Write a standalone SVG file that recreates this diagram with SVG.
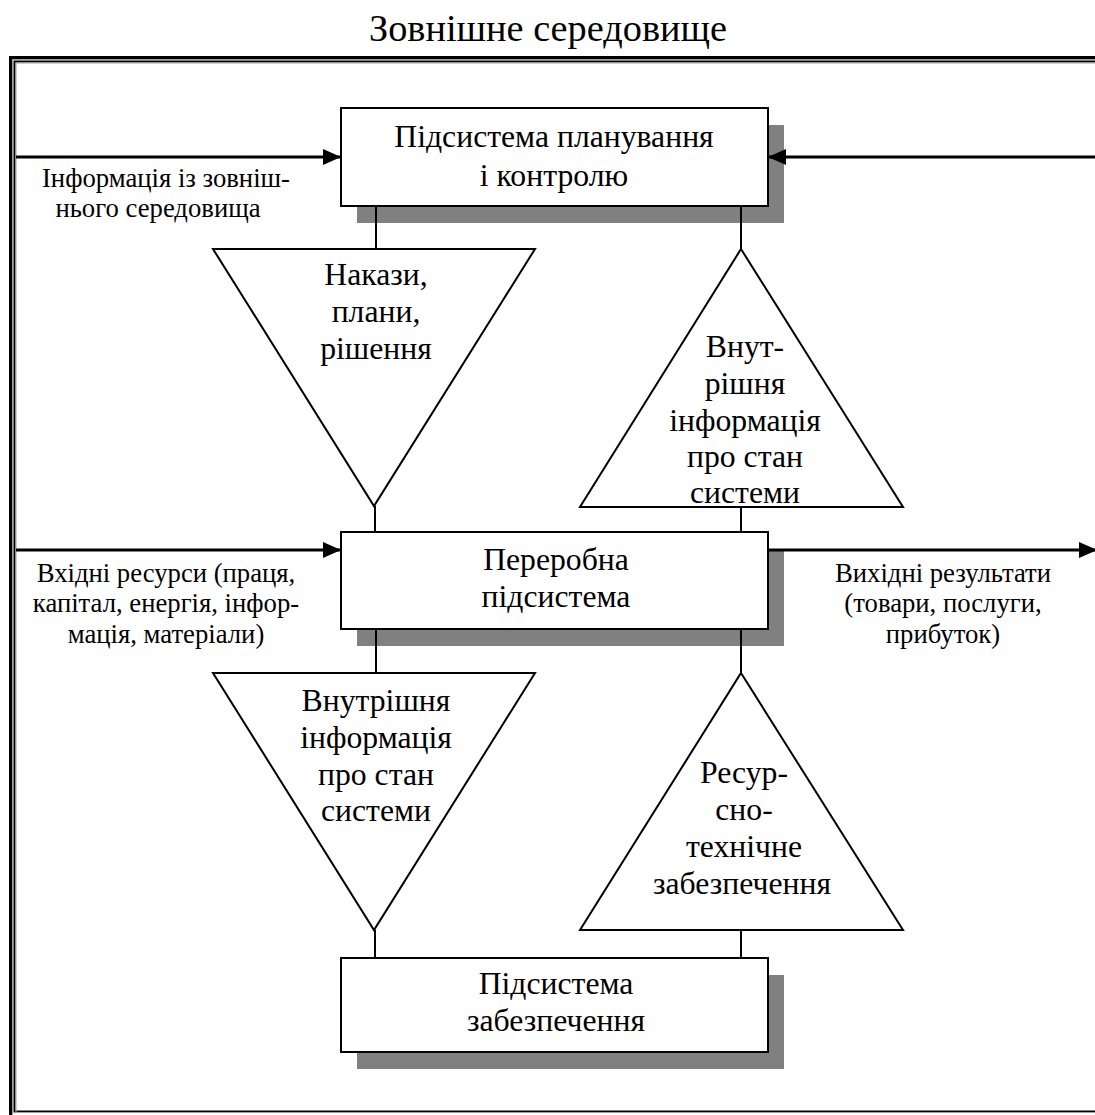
<svg xmlns="http://www.w3.org/2000/svg" width="1095" height="1115" viewBox="0 0 1095 1115">
<style>
.t{font-family:"Liberation Serif","DejaVu Serif",serif;fill:#000;text-anchor:middle}
.big{font-size:31.7px}
.lbl{font-size:26.7px}
.title{font-size:38.3px}
.box{fill:#fff;stroke:#000;stroke-width:2}
.shadow{fill:#808080}
.tri{fill:#fff;stroke:#000;stroke-width:2}
.ln{stroke:#000;stroke-width:2;fill:none}
.arr{stroke:#000;stroke-width:3;fill:none}
</style>
<defs>
<marker id="ah" markerWidth="18" markerHeight="16" refX="17" refY="8" orient="auto" markerUnits="userSpaceOnUse">
<path d="M0,0 L18,8 L0,16 Z" fill="#000"/>
</marker>
</defs>
<rect width="1095" height="1115" fill="#fff"/>
<g font-family="Liberation Serif, DejaVu Serif, serif">
<text class="t title" x="548" y="41">Зовнішне середовище</text>
<g id="frame">
<rect x="10.5" y="57.5" width="1200" height="1060" fill="none" stroke="#000" stroke-width="3"/>
<rect x="12.5" y="59.5" width="1200" height="1056" fill="none" stroke="#a0a0a0" stroke-width="1"/>
<rect x="14.5" y="61.5" width="1200" height="1050" fill="none" stroke="#000" stroke-width="2"/>
<rect x="16" y="63" width="1200" height="1049.5" fill="none" stroke="#a0a0a0" stroke-width="1"/>
</g>
<g id="planning">
<rect class="shadow" x="357" y="125" width="427" height="98"/>
<rect class="box" x="341" y="108" width="427" height="98"/>
<text class="t big" x="554" y="147">Підсистема планування</text>
<text class="t big" x="554" y="186">і контролю</text>
</g>
<g id="processing">
<rect class="shadow" x="357" y="549" width="427" height="97"/>
<rect class="box" x="341" y="532" width="427" height="97"/>
<text class="t big" x="556" y="570">Переробна</text>
<text class="t big" x="556" y="607">підсистема</text>
</g>
<g id="support">
<rect class="shadow" x="357" y="975" width="427" height="94"/>
<rect class="box" x="341" y="958" width="427" height="94"/>
<text class="t big" x="556" y="994">Підсистема</text>
<text class="t big" x="556" y="1031">забезпечення</text>
</g>
<g id="orders">
<polygon class="tri" points="213,249 535,249 374,506"/>
<text class="t big" x="376" y="285">Накази,</text>
<text class="t big" x="376" y="322">плани,</text>
<text class="t big" x="376" y="359">рішення</text>
</g>
<g id="info-up">
<polygon class="tri" points="741,249 903,507 580,507"/>
<text class="t big" x="745" y="357">Внут-</text>
<text class="t big" x="745" y="394">рішня</text>
<text class="t big" x="745" y="431">інформація</text>
<text class="t big" x="745" y="467">про стан</text>
<text class="t big" x="745" y="503">системи</text>
</g>
<g id="info-down">
<polygon class="tri" points="213,673 535,673 374,930"/>
<text class="t big" x="376" y="711">Внутрішня</text>
<text class="t big" x="376" y="748">інформація</text>
<text class="t big" x="376" y="785">про стан</text>
<text class="t big" x="376" y="821">системи</text>
</g>
<g id="resources">
<polygon class="tri" points="741,673 903,930 580,930"/>
<text class="t big" x="744" y="783">Ресур-</text>
<text class="t big" x="744" y="820">сно-</text>
<text class="t big" x="744" y="857">технічне</text>
<text class="t big" x="742" y="894">забезпечення</text>
</g>
<g id="labels">
<text class="t lbl" x="166" y="187">Інформація із зовніш-</text>
<text class="t lbl" x="158" y="217">нього середовища</text>
<text class="t lbl" x="166" y="582">Вхідні ресурси (праця,</text>
<text class="t lbl" x="166" y="612">капітал, енергія, інфор-</text>
<text class="t lbl" x="166" y="643">мація, матеріали)</text>
<text class="t lbl" x="943" y="582">Вихідні результати</text>
<text class="t lbl" x="943" y="612">(товари, послуги,</text>
<text class="t lbl" x="943" y="643">прибуток)</text>
</g>
</g>
<g id="connectors">
<line class="ln" x1="376" y1="206" x2="376" y2="249"/>
<line class="ln" x1="741" y1="206" x2="741" y2="249"/>
<line class="ln" x1="375" y1="506" x2="375" y2="532"/>
<line class="ln" x1="741" y1="507" x2="741" y2="532"/>
<line class="ln" x1="376" y1="629" x2="376" y2="673"/>
<line class="ln" x1="741" y1="629" x2="741" y2="673"/>
<line class="ln" x1="375" y1="930" x2="375" y2="958"/>
<line class="ln" x1="741" y1="930" x2="741" y2="958"/>
<line class="arr" x1="16" y1="157" x2="340" y2="157" marker-end="url(#ah)"/>
<line class="arr" x1="1095" y1="157" x2="769" y2="157" marker-end="url(#ah)"/>
<line class="arr" x1="16" y1="550" x2="340" y2="550" marker-end="url(#ah)"/>
<line class="arr" x1="769" y1="550" x2="1096" y2="550" marker-end="url(#ah)"/>
</g>
</svg>
